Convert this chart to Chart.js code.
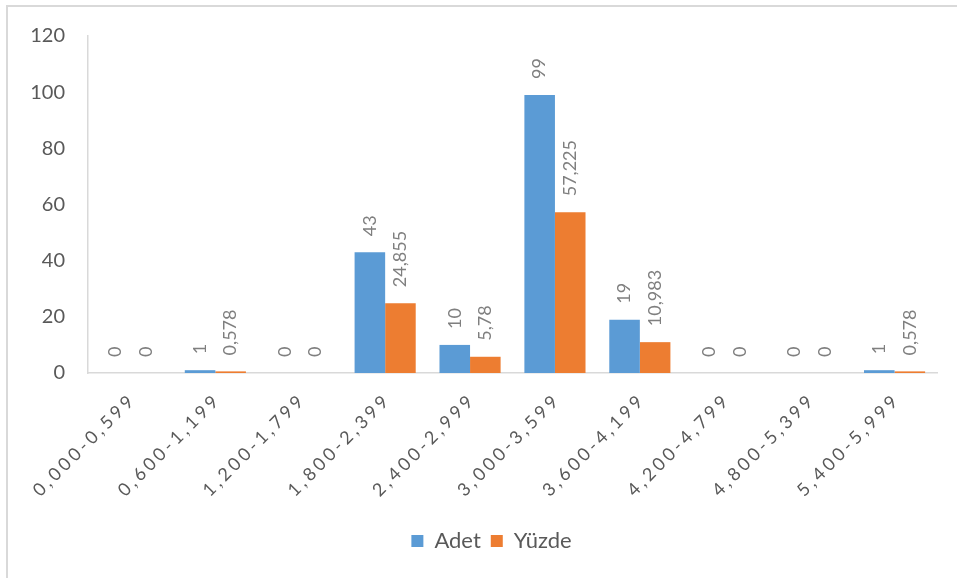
<!DOCTYPE html>
<html>
<head>
<meta charset="utf-8">
<script src="https://cdn.jsdelivr.net/npm/chart.js@4/dist/chart.umd.min.js"></script>
<style>
  html, body { margin: 0; padding: 0; background: #ffffff; }
  #wrap { position: relative; width: 957px; height: 578px; }
  #frame { position: absolute; left: 6px; top: 5px; right: 0; bottom: 0;
           border-top: 2px solid #d9d9d9; border-left: 2px solid #d9d9d9; }
  #c { position: absolute; left: 0; top: 0; }
</style>
</head>
<body>
<div id="wrap">
  <div id="frame"></div>
  <canvas id="c" width="957" height="578"></canvas>
</div>
<script>
// Class intervals on the horizontal axis
const categories = ['0,000-0,599', '0,600-1,199', '1,200-1,799', '1,800-2,399', '2,400-2,999',
                    '3,000-3,599', '3,600-4,199', '4,200-4,799', '4,800-5,399', '5,400-5,999'];
// Count per interval
const adet = [0, 1, 0, 43, 10, 99, 19, 0, 0, 1];
// Share per interval (%)
const yuzde = [0, 0.578, 0, 24.855, 5.78, 57.225, 10.983, 0, 0, 0.578];
// Value axis range
const yMin = 0, yMax = 120, yStep = 20;

const FONT = 'Lato, "Open Sans", sans-serif';
const fmt = v => String(v).replace('.', ',');

// Value labels, written vertically above each bar
const valueLabels = {
  id: 'valueLabels',
  afterDatasetsDraw(chart) {
    const ctx = chart.ctx;
    ctx.save();
    ctx.font = '18px ' + FONT;
    ctx.fillStyle = '#7f7f7f';
    chart.data.datasets.forEach((ds, i) => {
      chart.getDatasetMeta(i).data.forEach((bar, j) => {
        ctx.save();
        ctx.translate(bar.x, bar.y - 16);
        ctx.rotate(-Math.PI / 2);
        ctx.textAlign = 'left';
        ctx.textBaseline = 'middle';
        ctx.fillText(fmt(ds.data[j]), 0, 0);
        ctx.restore();
      });
    });
    ctx.restore();
  }
};

// Category labels, slanted at 45 degrees with wide letter spacing
const slantedLabels = {
  id: 'slantedLabels',
  afterDraw(chart) {
    const ctx = chart.ctx;
    const xs = chart.scales.x;
    const spacing = 3.5;
    ctx.save();
    ctx.font = '18px ' + FONT;
    ctx.fillStyle = '#595959';
    ctx.letterSpacing = spacing + 'px';
    chart.data.labels.forEach((lab, i) => {
      const cx = xs.getPixelForTick(i);
      const w = ctx.measureText(lab).width - spacing;
      ctx.save();
      ctx.translate(cx, xs.top + 26);
      ctx.rotate(-Math.PI / 4);
      ctx.textAlign = 'left';
      ctx.textBaseline = 'middle';
      ctx.fillText(lab, -w, 0);
      ctx.restore();
    });
    ctx.restore();
  }
};

// Centre the legend under the plot area rather than the whole canvas
const legendUnderPlot = {
  id: 'legendUnderPlot',
  afterLayout(chart) {
    const lg = chart.legend;
    const shift = (chart.chartArea.left + chart.chartArea.right) / 2 - (lg.left + lg.right) / 2 - 21;
    lg.left += shift;
    lg.right += shift;
  }
};

new Chart(document.getElementById('c'), {
  type: 'bar',
  data: {
    labels: categories,
    datasets: [
      { label: 'Adet', data: adet, backgroundColor: '#5b9bd5', borderWidth: 0 },
      { label: 'Yüzde', data: yuzde, backgroundColor: '#ed7d31', borderWidth: 0 }
    ]
  },
  options: {
    responsive: false,
    animation: false,
    devicePixelRatio: 1,
    layout: { padding: { left: 0, right: 20, top: 36, bottom: 16 } },
    datasets: { bar: { categoryPercentage: 0.72, barPercentage: 1.0 } },
    scales: {
      x: {
        grid: { display: false, drawTicks: false },
        border: { display: true, color: '#d9d9d9', width: 1.5 },
        ticks: { display: false },
        afterFit(s) { s.height = 147; }
      },
      y: {
        min: yMin, max: yMax,
        grid: { display: false, drawTicks: false },
        border: { display: true, color: '#d9d9d9', width: 1.5 },
        ticks: { stepSize: yStep, padding: 23, color: '#595959', font: { family: FONT, size: 20 } },
        afterFit(s) { s.width = 88; }
      }
    },
    plugins: {
      legend: {
        position: 'bottom',
        labels: {
          boxWidth: 12, boxHeight: 12, padding: 10,
          color: '#595959',
          font: { family: FONT, size: 22 }
        }
      },
      tooltip: { enabled: false }
    }
  },
  plugins: [valueLabels, slantedLabels, legendUnderPlot]
});
</script>
</body>
</html>
